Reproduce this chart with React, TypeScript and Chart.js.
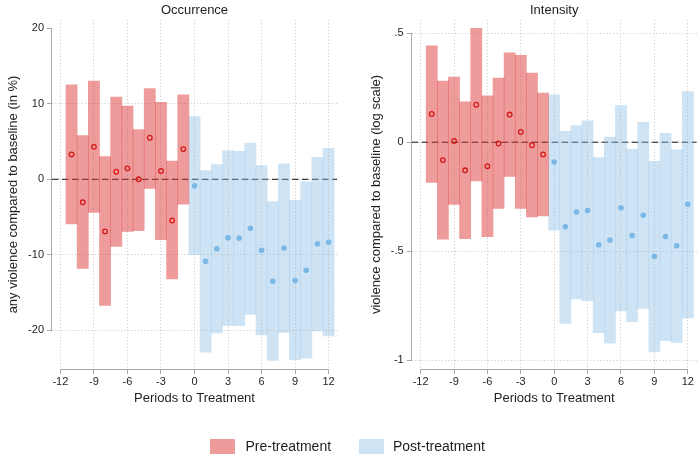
import React, { useEffect, useRef } from 'react';
import { Chart, registerables } from 'chart.js';

Chart.register(...registerables);

const FONT = "'Liberation Sans', Arial, Helvetica, sans-serif";
Chart.defaults.font.family = FONT;

// ---------- data ----------
const prePeriods = [-11, -10, -9, -8, -7, -6, -5, -4, -3, -2, -1];
const postPeriods = [0, 1, 2, 3, 4, 5, 6, 7, 8, 9, 10, 11, 12];
const xTicks = [-12, -9, -6, -3, 0, 3, 6, 9, 12];

// Occurrence (in %)
const occPreEst = [3.3, -3.05, 4.3, -6.9, 1.0, 1.45, 0.0, 5.5, 1.1, -5.45, 4.0];
const occPreLow = [-5.9, -11.8, -4.4, -16.7, -8.9, -6.9, -6.8, -1.2, -8.0, -13.2, -3.3];
const occPreHigh = [12.5, 5.8, 13.0, 3.0, 10.9, 9.7, 6.6, 12.0, 10.2, 2.4, 11.2];
const occPostEst = [-0.85, -10.85, -9.2, -7.75, -7.8, -6.5, -9.4, -13.5, -9.1, -13.4, -12.05, -8.55, -8.35];
const occPostLow = [-10.0, -22.9, -20.35, -19.4, -19.4, -17.9, -20.6, -24.0, -20.3, -23.9, -23.7, -20.1, -20.75];
const occPostHigh = [8.3, 1.15, 1.95, 3.8, 3.7, 4.8, 1.8, -2.95, 2.05, -2.8, -0.35, 2.9, 4.1];
const occYTicks = [-20, -10, 0, 10, 20];
const occYTickLabels = ['-20', '-10', '0', '10', '20'];

// Intensity (log scale)
const intPreEst = [0.13, -0.082, 0.006, -0.129, 0.172, -0.11, -0.006, 0.127, 0.047, -0.014, -0.056];
const intPreLow = [-0.184, -0.445, -0.285, -0.443, -0.178, -0.434, -0.304, -0.157, -0.304, -0.343, -0.338];
const intPreHigh = [0.443, 0.281, 0.299, 0.185, 0.523, 0.213, 0.294, 0.41, 0.399, 0.317, 0.226];
const intPostEst = [-0.091, -0.388, -0.32, -0.314, -0.471, -0.449, -0.301, -0.428, -0.335, -0.524, -0.433, -0.475, -0.285];
const intPostLow = [-0.404, -0.832, -0.719, -0.727, -0.874, -0.923, -0.774, -0.824, -0.763, -0.963, -0.911, -0.919, -0.806];
const intPostHigh = [0.218, 0.05, 0.076, 0.098, -0.07, 0.023, 0.168, -0.033, 0.091, -0.088, 0.041, -0.035, 0.232];
const intYTicks = [-1, -0.5, 0, 0.5];
const intYTickLabels = ['-1', '-.5', '0', '.5'];

// ---------- styles ----------
const TXT = '#1e1e1e';
const AXIS = '#a8a8a8';
const GRID = '#c6c6c6';
const PRE_FILL = 'rgba(220,50,50,0.49)';
const POST_FILL = 'rgba(130,185,230,0.39)';
const PRE_DOT = '#d41a1a';
const POST_DOT = '#7cb8e6';

type Panel = {
  title: string;
  yTitle: string;
  preEst: number[]; preLow: number[]; preHigh: number[];
  postEst: number[]; postLow: number[]; postHigh: number[];
  yTicks: number[]; yTickLabels: string[]; noGrid: number[];
  xMin: number; xMax: number; yMin: number; yMax: number;
  yAxisWidth: number; yTitlePad: number; padRight: number;
};

const axisLines = {
  id: 'axisLines',
  afterDraw(chart: any) {
    const { ctx, chartArea, scales } = chart;
    const xs = scales.x;
    const ys = scales.y;
    const xt = xs.ticks;
    const yt = ys.ticks;
    ctx.save();
    ctx.strokeStyle = AXIS;
    ctx.lineWidth = 1;
    ctx.beginPath();
    const ax = Math.round(chartArea.left) - 0.5;
    ctx.moveTo(ax, ys.getPixelForValue(yt[yt.length - 1].value));
    ctx.lineTo(ax, ys.getPixelForValue(yt[0].value));
    const ay = Math.round(chartArea.bottom) + 0.5;
    ctx.moveTo(xs.getPixelForValue(xt[0].value), ay);
    ctx.lineTo(xs.getPixelForValue(xt[xt.length - 1].value), ay);
    ctx.stroke();
    ctx.restore();
  },
};

function makeConfig(p: Panel): any {
  const zero = [{ x: p.xMin, y: 0 }, { x: p.xMax, y: 0 }];
  return {
    type: 'bar',
    data: {
      datasets: [
        {
          type: 'line', data: zero, borderColor: '#111', borderWidth: 1,
          borderDash: [6.5, 3.5], pointRadius: 0, fill: false, order: 3,
        },
        {
          type: 'bar', label: 'Pre-treatment',
          data: prePeriods.map((x, i) => ({ x, y: [p.preLow[i], p.preHigh[i]] })),
          backgroundColor: PRE_FILL, borderWidth: 0,
          borderSkipped: false, grouped: false, barPercentage: 1, categoryPercentage: 1, order: 2,
        },
        {
          type: 'bar', label: 'Post-treatment',
          data: postPeriods.map((x, i) => ({ x, y: [p.postLow[i], p.postHigh[i]] })),
          backgroundColor: POST_FILL, borderWidth: 0,
          borderSkipped: false, grouped: false, barPercentage: 1, categoryPercentage: 1, order: 2,
        },
        {
          type: 'line', showLine: false,
          data: prePeriods.map((x, i) => ({ x, y: p.preEst[i] })),
          pointRadius: 2.3, pointBorderWidth: 1.3,
          borderColor: PRE_DOT, pointBorderColor: PRE_DOT,
          backgroundColor: 'rgba(0,0,0,0)', pointBackgroundColor: 'rgba(0,0,0,0)', order: 1,
        },
        {
          type: 'line', showLine: false,
          data: postPeriods.map((x, i) => ({ x, y: p.postEst[i] })),
          pointRadius: 2.8, pointBorderWidth: 0,
          borderColor: POST_DOT, pointBorderColor: POST_DOT,
          backgroundColor: POST_DOT, pointBackgroundColor: POST_DOT, order: 1,
        },
      ],
    },
    options: {
      responsive: false,
      animation: false,
      devicePixelRatio: 1,
      layout: { padding: { top: 0, left: 0, right: p.padRight, bottom: 45 } },
      plugins: {
        legend: { display: false },
        tooltip: { enabled: false },
        title: {
          display: true, text: p.title, fullSize: false, color: TXT,
          font: { size: 13, weight: 'normal', family: FONT },
          padding: { top: 2.5, bottom: 1.9 },
        },
      },
      scales: {
        x: {
          type: 'linear', min: p.xMin, max: p.xMax, offset: false,
          afterBuildTicks: (s: any) => { s.ticks = xTicks.map((v) => ({ value: v })); },
          afterFit: (s: any) => { s.height = 40; },
          grid: {
            color: GRID, lineWidth: 1, offset: false, drawTicks: true,
            tickLength: 5, tickColor: AXIS, tickWidth: 1,
          },
          border: { display: false, dash: [1, 2.3] },
          ticks: {
            color: TXT, font: { size: 11, family: FONT }, padding: 1,
            maxRotation: 0, minRotation: 0, autoSkip: false,
            callback: (v: any) => String(v),
          },
          title: {
            display: true, text: 'Periods to Treatment', color: TXT,
            font: { size: 13, family: FONT }, padding: { top: 0, bottom: 3.2 },
          },
        },
        y: {
          type: 'linear', min: p.yMin, max: p.yMax,
          afterBuildTicks: (s: any) => { s.ticks = p.yTicks.map((v) => ({ value: v })); },
          afterFit: (s: any) => { s.width = p.yAxisWidth; },
          grid: {
            color: (c: any) => (c.tick && p.noGrid.includes(c.tick.value) ? 'rgba(0,0,0,0)' : GRID),
            lineWidth: 1, drawTicks: true, tickLength: 5, tickColor: AXIS, tickWidth: 1,
          },
          border: { display: false, dash: [1, 2.3] },
          ticks: {
            color: TXT, font: { size: 11, family: FONT }, padding: 3, autoSkip: false,
            callback: (v: any) => {
              const k = p.yTicks.indexOf(v);
              return k >= 0 ? p.yTickLabels[k] : '';
            },
          },
          title: {
            display: true, text: p.yTitle, color: TXT,
            font: { size: 13, family: FONT }, padding: { top: p.yTitlePad, bottom: 0 },
          },
        },
      },
    },
    plugins: [axisLines],
  };
}

const occPanel: Panel = {
  title: 'Occurrence',
  yTitle: 'any violence compared to baseline (in %)',
  preEst: occPreEst, preLow: occPreLow, preHigh: occPreHigh,
  postEst: occPostEst, postLow: occPostLow, postHigh: occPostHigh,
  yTicks: occYTicks, yTickLabels: occYTickLabels, noGrid: [20],
  xMin: -12.75, xMax: 12.75, yMin: -25.13, yMax: 21.1,
  yAxisWidth: 52, yTitlePad: 5.2, padRight: 13,
};

const intPanel: Panel = {
  title: 'Intensity',
  yTitle: 'violence compared to baseline (log scale)',
  preEst: intPreEst, preLow: intPreLow, preHigh: intPreHigh,
  postEst: intPostEst, postLow: intPostLow, postHigh: intPostHigh,
  yTicks: intYTicks, yTickLabels: intYTickLabels, noGrid: [],
  xMin: -12.8, xMax: 12.8, yMin: -1.041, yMax: 0.561,
  yAxisWidth: 61.7, yTitlePad: 18.9, padRight: 0.6,
};

export default function App() {
  const leftRef = useRef<HTMLCanvasElement>(null);
  const rightRef = useRef<HTMLCanvasElement>(null);

  useEffect(() => {
    const c1 = new Chart(leftRef.current as HTMLCanvasElement, makeConfig(occPanel));
    const c2 = new Chart(rightRef.current as HTMLCanvasElement, makeConfig(intPanel));
    return () => { c1.destroy(); c2.destroy(); };
  }, []);

  const legendText: React.CSSProperties = {
    position: 'absolute', top: 438, fontSize: 14, lineHeight: '17px', color: TXT,
    fontFamily: FONT, whiteSpace: 'nowrap',
  };

  return (
    <div style={{ position: 'fixed', left: 0, top: 0, width: 700, height: 454, overflow: 'hidden', background: '#fff' }}>
      <canvas ref={leftRef} width={350} height={454} style={{ position: 'absolute', left: 0, top: 0 }} />
      <canvas ref={rightRef} width={352} height={454} style={{ position: 'absolute', left: 350, top: 0 }} />
      <div style={{ position: 'absolute', left: 210, top: 439, width: 25, height: 16, background: PRE_FILL }} />
      <span style={{ ...legendText, left: 245.5 }}>Pre-treatment</span>
      <div style={{ position: 'absolute', left: 359, top: 439, width: 25, height: 16, background: POST_FILL }} />
      <span style={{ ...legendText, left: 393 }}>Post-treatment</span>
    </div>
  );
}
